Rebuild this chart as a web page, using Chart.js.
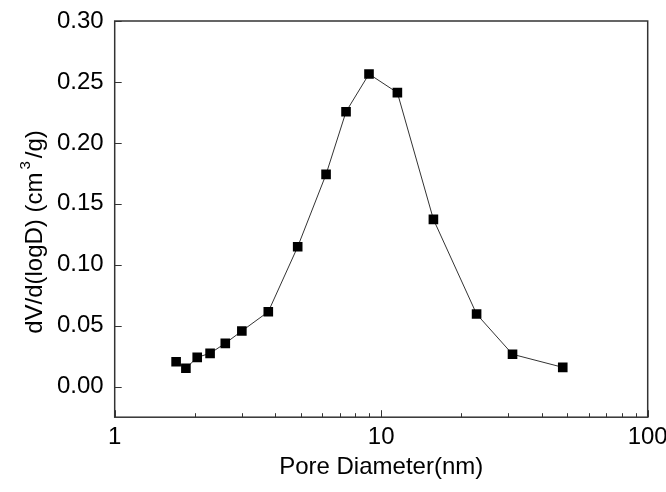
<!DOCTYPE html>
<html><head><meta charset="utf-8">
<style>html,body{margin:0;padding:0;background:#fff}#wrap{width:666px;height:492px}</style>
<script src="https://cdn.jsdelivr.net/npm/chart.js@4.4.1/dist/chart.umd.min.js"></script>
</head><body><div id="wrap"><canvas id="c" width="666" height="492"></canvas></div>
<script>
const poreDiameter = [1.70, 1.85, 2.04, 2.28, 2.60, 3.00, 3.77, 4.86, 6.21, 7.38, 9.00, 11.5, 15.7, 22.8, 31.1, 48.0];
const dVdlogD = [0.0205, 0.0151, 0.0241, 0.0274, 0.0356, 0.0457, 0.0615, 0.1148, 0.1742, 0.2256, 0.2565, 0.2412, 0.1373, 0.0596, 0.0266, 0.0159];
const xTickLabels = [1, 10, 100];
const xMinorTicks = [2, 3, 4, 5, 6, 7, 8, 9, 20, 30, 40, 50, 60, 70, 80, 90];
const yTickValues = [0, 0.05, 0.10, 0.15, 0.20, 0.25, 0.30];
const xTitle = 'Pore Diameter(nm)';
const yTitleParts = ['dV/d(logD) (cm', '3', '/g)'];

const FONT = '"Liberation Sans", Arial, sans-serif';

const frameTicks = {
  id: 'frameTicks',
  afterDraw(chart) {
    const ctx = chart.ctx, a = chart.chartArea;
    const xs = chart.scales.x, ys = chart.scales.y;
    ctx.save();
    ctx.strokeStyle = '#333';
    ctx.lineWidth = 1;
    ctx.beginPath();
    yTickValues.forEach(v => {
      const y = Math.round(ys.getPixelForValue(v)) + 0.5;
      ctx.moveTo(a.left, y); ctx.lineTo(a.left + 7, y);
    });
    xTickLabels.forEach(v => {
      const x = Math.round(xs.getPixelForValue(v)) + 0.5;
      ctx.moveTo(x, a.bottom); ctx.lineTo(x, a.bottom - 7);
    });
    xMinorTicks.forEach(v => {
      const x = Math.round(xs.getPixelForValue(v)) + 0.5;
      ctx.moveTo(x, a.bottom); ctx.lineTo(x, a.bottom - 4);
    });
    ctx.stroke();
    ctx.lineWidth = 1.5;
    ctx.strokeStyle = '#333';
    ctx.strokeRect(a.left, a.top, a.right - a.left, a.bottom - a.top);
    // y title with superscript
    const mainFont = '24px ' + FONT, supFont = '15px ' + FONT;
    ctx.fillStyle = '#000';
    ctx.translate(35, 232);
    ctx.rotate(-Math.PI / 2);
    ctx.font = mainFont;
    const w0 = ctx.measureText(yTitleParts[0]).width;
    const w2 = ctx.measureText(yTitleParts[2]).width;
    ctx.font = supFont;
    const w1 = ctx.measureText(yTitleParts[1]).width;
    const gap = 3;
    const total = w0 + gap + w1 + gap + w2;
    let x = -total / 2;
    ctx.textBaseline = 'middle';
    ctx.textAlign = 'left';
    ctx.font = mainFont;
    ctx.fillText(yTitleParts[0], x, 0);
    x += w0 + gap;
    ctx.font = supFont;
    ctx.fillText(yTitleParts[1], x, -9);
    x += w1 + gap;
    ctx.font = mainFont;
    ctx.fillText(yTitleParts[2], x, 0);
    ctx.restore();
  }
};

new Chart(document.getElementById('c'), {
  type: 'line',
  data: {
    datasets: [{
      data: poreDiameter.map((d, i) => ({ x: d, y: dVdlogD[i] })),
      borderColor: '#333',
      borderWidth: 1,
      pointStyle: 'rect',
      pointRadius: 6.8,
      pointBackgroundColor: '#000',
      pointBorderColor: '#000',
      pointBorderWidth: 0,
      tension: 0,
      fill: false
    }]
  },
  options: {
    responsive: false,
    devicePixelRatio: 1,
    animation: false,
    layout: { padding: { left: 0, right: 18.3, top: 21, bottom: 0 } },
    plugins: { legend: { display: false }, tooltip: { enabled: false } },
    scales: {
      x: {
        type: 'logarithmic',
        min: 1, max: 100,
        grid: { display: false, drawTicks: false },
        border: { display: false },
        afterBuildTicks: s => { s.ticks = xTickLabels.map(v => ({ value: v, major: true })); },
        ticks: {
          autoSkip: false, maxRotation: 0, padding: 6,
          color: '#000', font: { family: FONT, size: 24 },
          callback: v => String(v)
        },
        title: {
          display: true, text: xTitle, color: '#000',
          font: { family: FONT, size: 24 }, padding: { top: 0, bottom: 10 }
        },
        afterFit: s => { s.height = 74.8; s.paddingLeft = 0; s.paddingRight = 0; }
      },
      y: {
        type: 'linear',
        min: -0.025, max: 0.30,
        grid: { display: false, drawTicks: false },
        border: { display: false },
        afterBuildTicks: s => { s.ticks = yTickValues.map(v => ({ value: v })); },
        ticks: {
          padding: 11, color: '#000', font: { family: FONT, size: 24 },
          callback: v => Number(v).toFixed(2)
        },
        afterFit: s => { s.width = 114.7; s.paddingTop = 0; s.paddingBottom = 0; }
      }
    }
  },
  plugins: [frameTicks]
});
</script></body></html>
